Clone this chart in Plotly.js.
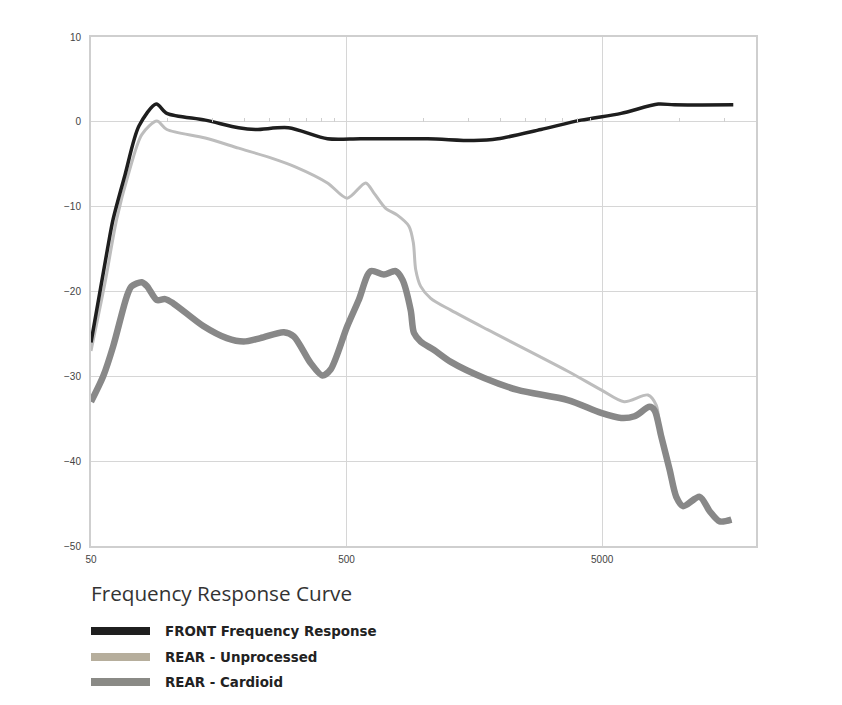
<!DOCTYPE html>
<html>
<head>
<meta charset="utf-8">
<script src="https://cdn.plot.ly/plotly-3.0.1.min.js"></script>
<style>
  html, body { margin: 0; padding: 0; background: #ffffff; }
  #chart { width: 842px; height: 705px; }
</style>
</head>
<body>
<div id="chart"></div>
<script>
// ---- Data (frequency in Hz, level in dB) ----
const frontFreq = [50, 58, 61, 68, 77, 90, 99, 140, 189, 220, 296, 421, 567, 1039, 1574, 1955, 2882, 4137, 5935, 8294, 9580, 16300];
const frontDb   = [-26, -15, -11.5, -6.2, -0.5, 2.1, 1.0, 0.2, -0.7, -0.9, -0.7, -2.0, -2.0, -2.0, -2.2, -2.0, -0.9, 0.2, 1.0, 2.1, 2.0, 2.0];

const unprocFreq = [50, 56.7, 63, 70, 79, 90.5, 99, 140, 189, 256, 315, 421, 503, 594, 640, 711, 790, 877, 913, 932, 975, 1067, 1279, 1781, 3670, 4955, 6100, 7555, 8140, 8518, 9183, 9750, 10366, 12035, 13176, 14420, 16025];
const unprocDb   = [-27, -19, -11.5, -6.2, -1.5, 0.1, -0.9, -1.9, -3.1, -4.3, -5.3, -7.2, -9.0, -7.2, -8.4, -10.2, -11.0, -12.3, -14.3, -17.4, -19.4, -20.8, -22.2, -24.5, -29.4, -31.6, -33.0, -32.2, -33.4, -37.1, -41.0, -44.2, -45.3, -44.2, -45.9, -47.1, -46.9];

const cardFreq = [50, 55.8, 61, 69, 72, 79, 83, 90.5, 97.5, 105, 138, 170, 198, 230, 284, 311, 361, 402, 433, 503, 558, 621, 700, 778, 827, 891, 918, 975, 1100, 1279, 1727, 2335, 3670, 4955, 5935, 6694, 7666, 8018, 8518, 9183, 9750, 10366, 12035, 13176, 14420, 16025];
const cardDb   = [-33.0, -30.0, -26.5, -20.6, -19.4, -18.9, -19.4, -21.0, -20.9, -21.4, -24.1, -25.5, -25.9, -25.5, -24.8, -25.3, -28.4, -29.9, -29.2, -24.1, -21.0, -17.6, -18.0, -17.6, -18.6, -22.2, -24.9, -25.9, -26.9, -28.3, -30.2, -31.6, -32.8, -34.3, -34.9, -34.7, -33.6, -34.0, -37.1, -41.0, -44.2, -45.3, -44.2, -45.9, -47.1, -46.9];

const xTickVals = [50, 500, 5000];
const xTickText = ['50', '500', '5000'];
const yTickVals = [10, 0, -10, -20, -30, -40, -50];
const minorTickVals = [100, 150, 200, 250, 300, 350, 400, 450, 1000, 1500, 2000, 2500, 3000, 3500, 4000, 4500, 10000, 15000];

const chartTitle = 'Frequency Response Curve';
const seriesNames = ['FRONT Frequency Response', 'REAR - Unprocessed', 'REAR - Cardioid'];
const legendColors = ['#1f1f1f', '#b6ae9c', '#8a8a86'];

// ---- Plot ----
const xRangeLog = [Math.log10(50), Math.log10(20000)];

const traces = [
  { x: unprocFreq, y: unprocDb, type: 'scatter', mode: 'lines', name: seriesNames[1],
    line: { color: '#bdbdbd', width: 3, shape: 'spline', smoothing: 0.8 }, hoverinfo: 'x+y', showlegend: false },
  { x: cardFreq, y: cardDb, type: 'scatter', mode: 'lines', name: seriesNames[2],
    line: { color: '#888888', width: 6.5, shape: 'spline', smoothing: 0.8 }, hoverinfo: 'x+y', showlegend: false },
  { x: frontFreq, y: frontDb, type: 'scatter', mode: 'lines', name: seriesNames[0],
    line: { color: '#1e1e1e', width: 3.5, shape: 'spline', smoothing: 0.8 }, hoverinfo: 'x+y', showlegend: false },
  // carrier for the minor tick axis drawn along the 0 dB line
  { x: minorTickVals, y: minorTickVals.map(() => null), xaxis: 'x2', yaxis: 'y', type: 'scatter', mode: 'lines',
    hoverinfo: 'skip', showlegend: false }
];

// legend built from annotations + swatches (paper coords)
const plotL = 91, plotR = 756, plotT = 37, plotB = 546;
const pw = plotR - plotL, ph = plotB - plotT;
const px2x = p => (p - plotL) / pw;
const py2y = p => (plotB - p) / ph;

const rowY = [631, 657, 682];
const annotations = [
  { text: chartTitle, xref: 'paper', yref: 'paper', x: px2x(89), y: py2y(593), xanchor: 'left', yanchor: 'middle',
    showarrow: false, font: { family: 'Open Sans, Noto Sans, sans-serif', size: 20.7, color: '#333333' } }
];
const shapes = [];
seriesNames.forEach((nm, i) => {
  annotations.push({ text: '<b>' + nm + '</b>', xref: 'paper', yref: 'paper', x: px2x(163), y: py2y(rowY[i]),
    xanchor: 'left', yanchor: 'middle', showarrow: false,
    font: { family: 'DejaVu Sans, sans-serif', size: 13.4, color: '#222222' } });
  shapes.push({ type: 'rect', xref: 'paper', yref: 'paper', x0: px2x(91), x1: px2x(150),
    y0: py2y(rowY[i] + 4), y1: py2y(rowY[i] - 4), fillcolor: legendColors[i], line: { width: 0 } });
});

const layout = {
  width: 842, height: 705,
  margin: { l: plotL, r: 842 - plotR, t: plotT, b: 705 - plotB, pad: 0 },
  paper_bgcolor: '#ffffff', plot_bgcolor: '#ffffff',
  showlegend: false,
  xaxis: {
    type: 'log', range: xRangeLog, tickvals: xTickVals, ticktext: xTickText,
    showgrid: true, gridcolor: '#d6d6d6', gridwidth: 1,
    showline: true, linecolor: '#cfcfcf', linewidth: 2, mirror: true,
    ticks: 'outside', ticklen: 3, tickcolor: 'rgba(0,0,0,0)',
    tickfont: { family: 'Liberation Sans, Arial, sans-serif', size: 10, color: '#444444' },
    zeroline: false
  },
  xaxis2: {
    type: 'log', range: xRangeLog, overlaying: 'x', anchor: 'free', position: 50 / 60, side: 'bottom',
    tickvals: minorTickVals, ticks: 'inside', ticklen: 4, tickwidth: 1, tickcolor: '#cfcfcf',
    showticklabels: false, showgrid: false, showline: false, zeroline: false
  },
  yaxis: {
    range: [-50, 10], tickvals: yTickVals,
    showgrid: true, gridcolor: '#d6d6d6', gridwidth: 1,
    showline: true, linecolor: '#cfcfcf', linewidth: 2, mirror: true,
    ticks: 'outside', ticklen: 6, tickcolor: 'rgba(0,0,0,0)',
    tickfont: { family: 'Liberation Sans, Arial, sans-serif', size: 10, color: '#444444' },
    zeroline: false
  },
  annotations: annotations,
  shapes: shapes
};

Plotly.newPlot('chart', traces, layout, { displayModeBar: false, staticPlot: true });
</script>
</body>
</html>
